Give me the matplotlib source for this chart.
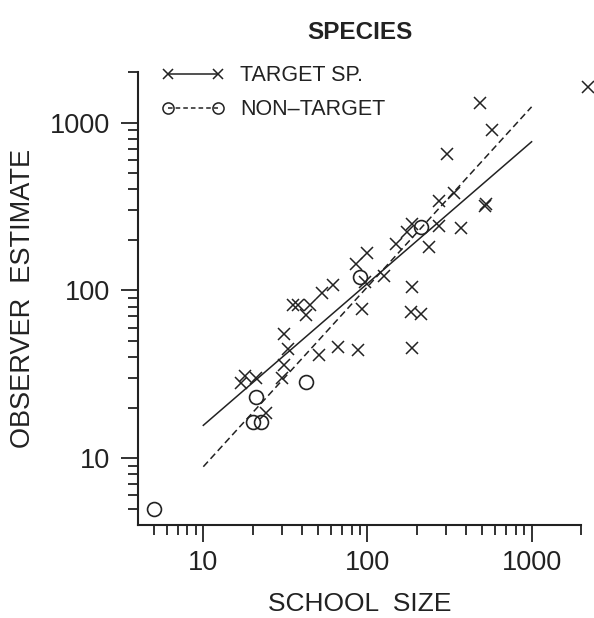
import matplotlib
matplotlib.use('Agg')
import matplotlib.pyplot as plt
from matplotlib.lines import Line2D
from matplotlib.ticker import FixedLocator, FuncFormatter, NullFormatter

# school size vs observer estimate
target_size = [17, 18, 21, 24, 30, 31, 31, 33, 35, 38, 44.5, 42, 51, 53, 62,
               66, 85, 87, 93, 97, 100, 127, 150, 175, 186, 184, 211, 186,
               188, 236, 273, 273, 304, 337, 370, 482, 570, 518, 530, 2200]
target_est = [28, 31, 30, 18.5, 30, 36, 55, 45, 82, 82, 82, 71, 41, 96, 108,
              46, 143, 44, 77, 112, 168, 122, 190, 223, 105, 74, 72, 45.5,
              250, 182, 243, 340, 645, 378, 234, 1300, 900, 320, 325, 1630]

nontarget_size = [5, 20, 22.5, 21, 42.5, 90, 211]
nontarget_est = [5, 16.4, 16.4, 23.3, 28.6, 120, 240]

# fitted regression lines (end points as drawn)
fit_x = [10, 1000]
target_fit = [15.7, 768]
nontarget_fit = [8.9, 1240]

major_ticks = [10, 100, 1000]
minor_ticks = [5, 6, 7, 8, 9, 20, 30, 40, 50, 60, 70, 80, 90,
               200, 300, 400, 500, 600, 700, 800, 900, 2000]

labels = ['TARGET SP.', 'NON\u2013TARGET']

plt.rcParams['font.family'] = ['Liberation Sans', 'DejaVu Sans']
ink = '#222222'

fig = plt.figure(figsize=(5.94, 6.18), dpi=100)
ax = fig.add_axes([138 / 594, 1 - 525 / 618, 443 / 594, 453 / 618])

ax.plot(target_size, target_est, ls='none', marker='x', ms=8, mew=1.1,
        color=ink, clip_on=False)
ax.plot(nontarget_size, nontarget_est, ls='none', marker='o', ms=10, mew=1.2,
        mfc='none', color=ink, clip_on=False)
ax.plot(fit_x, target_fit, color=ink, lw=1.1)
ax.plot(fit_x, nontarget_fit, color=ink, lw=1.1, ls=(0, (4.5, 2.5)))

ax.set_xscale('log')
ax.set_yscale('log')
ax.set_xlim(4, 2000)
ax.set_ylim(4, 2000)

for axis in (ax.xaxis, ax.yaxis):
    axis.set_major_locator(FixedLocator(major_ticks))
    axis.set_minor_locator(FixedLocator(minor_ticks))
    axis.set_major_formatter(FuncFormatter(lambda v, _: f'{v:g}'))
    axis.set_minor_formatter(NullFormatter())

ax.tick_params(which='major', length=12, width=1.3, color=ink,
               labelsize=19.5, labelcolor=ink)
ax.tick_params(which='minor', length=7, width=1.3, color=ink)
ax.tick_params(axis='x', which='major', pad=6)
ax.tick_params(axis='y', which='major', pad=8)

for side in ('top', 'right'):
    ax.spines[side].set_visible(False)
for side in ('left', 'bottom'):
    ax.spines[side].set_linewidth(1.5)
    ax.spines[side].set_color(ink)

ax.set_xlabel('SCHOOL  SIZE', fontsize=19, color=ink, va='top')
ax.xaxis.set_label_coords(0.5, -0.148)
ax.set_ylabel('OBSERVER  ESTIMATE', fontsize=19.5, color=ink)
ax.yaxis.set_label_coords(-0.23, 0.5)

ax.set_title('SPECIES', fontsize=17.5, fontweight='bold', color=ink, pad=24)

handles = [
    Line2D([], [], color=ink, lw=1.1, marker='x', ms=6.5, mew=1.1),
    Line2D([], [], color=ink, lw=1.1, ls=(0, (3, 2)), marker='o', ms=8,
           mew=1.1, mfc='none'),
]
ax.legend(handles, labels, loc='upper left', bbox_to_anchor=(0.054, 1.015),
          frameon=False, numpoints=2, handlelength=2.91, handletextpad=0.71,
          labelspacing=0.6, borderpad=0, borderaxespad=0,
          prop={'size': 15.5}, labelcolor=ink)

fig.savefig('out.png', dpi=100)
plt.close(fig)
